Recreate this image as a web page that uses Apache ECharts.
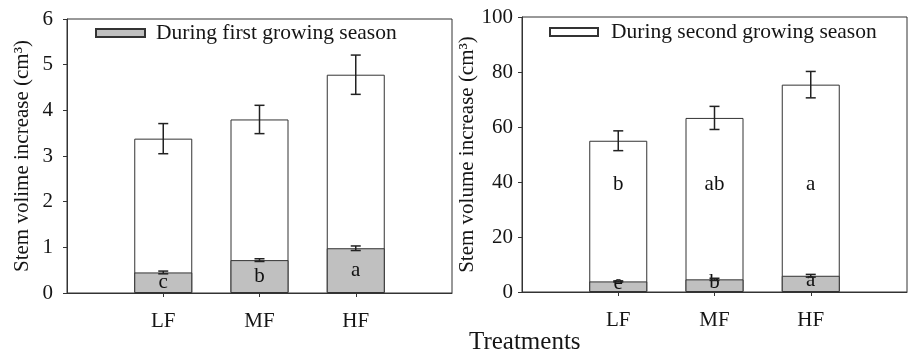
<!DOCTYPE html>
<html>
<head>
<meta charset="utf-8">
<script src="https://cdn.jsdelivr.net/npm/echarts@6/dist/echarts.min.js"></script>
<style>
  html, body { margin: 0; padding: 0; background: #fff; }
  #chart { width: 908px; height: 353px; }
</style>
</head>
<body>
<div id="chart"></div>
<script>
// categories
const treatments = ['LF', 'MF', 'HF'];

// left panel (cm3)
const leftTotal = [3.38, 3.80, 4.78];
const leftTotalErr = [0.33, 0.31, 0.43];
const leftFirst = [0.45, 0.72, 0.98];
const leftFirstErr = [0.03, 0.03, 0.05];
const leftLetters = ['c', 'b', 'a'];

// right panel (cm3)
const rightTotal = [55.0, 63.3, 75.4];
const rightTotalErr = [3.6, 4.2, 4.8];
const rightFirst = [3.85, 4.6, 5.9];
const rightFirstErr = [0.2, 0.4, 0.5];
const rightTopLetters = ['b', 'ab', 'a'];
const rightLowLetters = ['e', 'b', 'a'];

const leftTicks = [0, 1, 2, 3, 4, 5, 6];
const rightTicks = [0, 20, 40, 60, 80, 100];

const FONT = 'Liberation Serif';
const INK = '#151515';
const GREY = '#c0c0c0';
const LETTER_LEVEL = 39; // where the top-row letters sit in the right panel

const toPairs = arr => arr.map((v, i) => [i + 1, v]);

function errorSeries(idx, means, errs) {
    return {
        type: 'custom',
        xAxisIndex: idx, yAxisIndex: idx,
        silent: true, z: 10,
        encode: { x: 0, y: [1, 2] },
        data: means.map((m, i) => [i + 1, m - errs[i], m + errs[i]]),
        renderItem: function (params, api) {
            const lo = api.coord([api.value(0), api.value(1)]);
            const hi = api.coord([api.value(0), api.value(2)]);
            const w = 5;
            const st = { stroke: '#222', lineWidth: 1.5 };
            return {
                type: 'group',
                children: [
                    { type: 'line', shape: { x1: lo[0], y1: lo[1], x2: hi[0], y2: hi[1] }, style: st },
                    { type: 'line', shape: { x1: hi[0] - w, y1: hi[1], x2: hi[0] + w, y2: hi[1] }, style: st },
                    { type: 'line', shape: { x1: lo[0] - w, y1: lo[1], x2: lo[0] + w, y2: lo[1] }, style: st }
                ]
            };
        }
    };
}

function xAxisFor(idx) {
    return {
        type: 'value', gridIndex: idx, min: 0, max: 4,
        axisLine: { show: true, lineStyle: { color: '#333' } },
        axisTick: { show: true, customValues: [1, 2, 3], length: 4, lineStyle: { color: '#333' } },
        axisLabel: {
            customValues: [1, 2, 3], margin: 18,
            formatter: v => treatments[v - 1] || '',
            fontFamily: FONT, fontSize: 21, color: INK
        },
        splitLine: { show: false }
    };
}

function yAxisFor(idx, ticks, name, margin) {
    return {
        type: 'value', gridIndex: idx,
        min: ticks[0], max: ticks[ticks.length - 1], interval: ticks[1] - ticks[0],
        name: name, nameLocation: 'middle', nameGap: 34,
        nameTextStyle: { fontFamily: FONT, fontSize: 21, color: INK },
        axisLine: { show: true, lineStyle: { color: '#333' } },
        axisTick: { show: true, length: 4, lineStyle: { color: '#333' } },
        axisLabel: { margin: margin, fontFamily: FONT, fontSize: 21, color: INK },
        splitLine: { show: false }
    };
}

const barStyle = color => ({ color: color, borderColor: '#333', borderWidth: 1 });

const option = {
    backgroundColor: '#fff',
    animation: false,
    title: {
        text: 'Treatments', left: 464, top: 325,
        textStyle: { fontFamily: FONT, fontSize: 25, fontWeight: 'normal', color: INK }
    },
    legend: [
        {
            data: ['During first growing season'], left: 90, top: 17,
            itemWidth: 49, itemHeight: 8, icon: 'rect',
            textStyle: { fontFamily: FONT, fontSize: 21.5, color: INK, padding: [0, 0, 0, 6] }
        },
        {
            data: ['During second growing season'], left: 544, top: 16,
            itemWidth: 48, itemHeight: 8, icon: 'rect',
            textStyle: { fontFamily: FONT, fontSize: 21.5, color: INK, padding: [0, 0, 0, 8] }
        }
    ],
    grid: [
        { left: 67, top: 19, width: 385, height: 274, show: true, borderColor: '#333', borderWidth: 1 },
        { left: 522, top: 17, width: 385, height: 275, show: true, borderColor: '#333', borderWidth: 1 }
    ],
    xAxis: [xAxisFor(0), xAxisFor(1)],
    yAxis: [
        yAxisFor(0, leftTicks, 'Stem volime increase (cm³)', 14),
        yAxisFor(1, rightTicks, 'Stem volume increase (cm³)', 9)
    ],
    series: [
        {
            name: 'Total first', type: 'bar', xAxisIndex: 0, yAxisIndex: 0,
            barWidth: 58, barGap: '-100%', itemStyle: barStyle('#fff'),
            data: toPairs(leftTotal)
        },
        {
            name: 'During first growing season', type: 'bar', xAxisIndex: 0, yAxisIndex: 0,
            barWidth: 58, barGap: '-100%', itemStyle: barStyle(GREY),
            label: {
                show: true, position: 'inside', formatter: p => leftLetters[p.dataIndex],
                fontFamily: FONT, fontSize: 21, color: '#111'
            },
            data: toPairs(leftFirst)
        },
        errorSeries(0, leftTotal, leftTotalErr),
        errorSeries(0, leftFirst, leftFirstErr),
        {
            name: 'During second growing season', type: 'bar', xAxisIndex: 1, yAxisIndex: 1,
            barWidth: 58, barGap: '-100%', itemStyle: barStyle('#fff'),
            data: toPairs(rightTotal)
        },
        {
            name: 'First part', type: 'bar', xAxisIndex: 1, yAxisIndex: 1,
            barWidth: 58, barGap: '-100%', itemStyle: barStyle(GREY),
            label: {
                show: true, position: 'inside', offset: [0, -3], formatter: p => rightLowLetters[p.dataIndex],
                fontFamily: FONT, fontSize: 21, color: '#111'
            },
            data: toPairs(rightFirst)
        },
        errorSeries(1, rightTotal, rightTotalErr),
        errorSeries(1, rightFirst, rightFirstErr),
        {
            type: 'custom', xAxisIndex: 1, yAxisIndex: 1, silent: true, z: 11,
            encode: { x: 0, y: 1 },
            data: rightTopLetters.map((t, i) => [i + 1, LETTER_LEVEL]),
            renderItem: function (params, api) {
                const p = api.coord([api.value(0), api.value(1)]);
                return {
                    type: 'text', x: p[0], y: p[1],
                    style: {
                        text: rightTopLetters[params.dataIndex], fontFamily: FONT, fontSize: 21,
                        fill: '#111', align: 'center', verticalAlign: 'middle'
                    }
                };
            }
        }
    ]
};

const chart = echarts.init(document.getElementById('chart'), null, { renderer: 'canvas' });
chart.setOption(option);
</script>
</body>
</html>
